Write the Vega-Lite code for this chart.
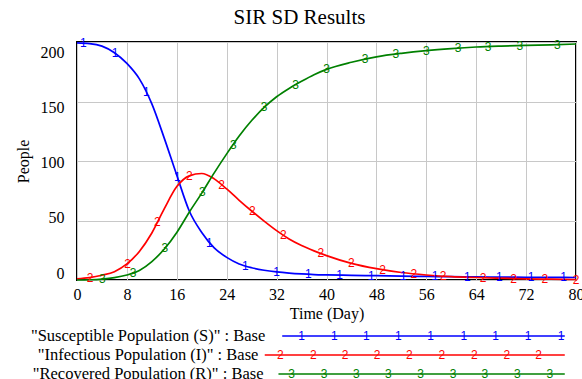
{
  "$schema": "https://vega.github.io/schema/vega-lite/v6.json",
  "background": "white",
  "padding": {"left": 14, "top": 7, "right": 0, "bottom": 0},
  "spacing": 5,
  "title": {"text": "SIR SD Results", "font": "Liberation Serif", "fontSize": 21, "fontWeight": "normal", "color": "black", "anchor": "middle", "offset": 8},
  "config": {"view": {"stroke": null}},
  "datasets": {
    "curves": [
      {"series": "S", "t": 0, "v": 199.3}, {"series": "S", "t": 2, "v": 198.7}, {"series": "S", "t": 4, "v": 196.5}, {"series": "S", "t": 6, "v": 191}, {"series": "S", "t": 8, "v": 182}, {"series": "S", "t": 10, "v": 169}, {"series": "S", "t": 12, "v": 148}, {"series": "S", "t": 14, "v": 119}, {"series": "S", "t": 16, "v": 88}, {"series": "S", "t": 18, "v": 58}, {"series": "S", "t": 20, "v": 40}, {"series": "S", "t": 22, "v": 27}, {"series": "S", "t": 24, "v": 19}, {"series": "S", "t": 26, "v": 13.5}, {"series": "S", "t": 28, "v": 10.3}, {"series": "S", "t": 30, "v": 8.2}, {"series": "S", "t": 32, "v": 6.8}, {"series": "S", "t": 34, "v": 5.8}, {"series": "S", "t": 36, "v": 5.1}, {"series": "S", "t": 38, "v": 4.6}, {"series": "S", "t": 40, "v": 4.3}, {"series": "S", "t": 44, "v": 3.9}, {"series": "S", "t": 48, "v": 3.6}, {"series": "S", "t": 52, "v": 3.3}, {"series": "S", "t": 56, "v": 3.0}, {"series": "S", "t": 60, "v": 2.8}, {"series": "S", "t": 64, "v": 2.6}, {"series": "S", "t": 68, "v": 2.4}, {"series": "S", "t": 72, "v": 2.3}, {"series": "S", "t": 76, "v": 2.2}, {"series": "S", "t": 80, "v": 2.1},
      {"series": "I", "t": 0, "v": 1}, {"series": "I", "t": 2, "v": 2}, {"series": "I", "t": 4, "v": 4}, {"series": "I", "t": 6, "v": 7}, {"series": "I", "t": 8, "v": 13.5}, {"series": "I", "t": 10, "v": 24}, {"series": "I", "t": 12, "v": 39.5}, {"series": "I", "t": 14, "v": 60}, {"series": "I", "t": 16, "v": 78.5}, {"series": "I", "t": 18, "v": 87.5}, {"series": "I", "t": 20, "v": 89.5}, {"series": "I", "t": 22, "v": 85}, {"series": "I", "t": 24, "v": 76.5}, {"series": "I", "t": 26, "v": 67}, {"series": "I", "t": 28, "v": 58}, {"series": "I", "t": 30, "v": 49.5}, {"series": "I", "t": 32, "v": 41.5}, {"series": "I", "t": 34, "v": 34.5}, {"series": "I", "t": 36, "v": 29}, {"series": "I", "t": 38, "v": 24.5}, {"series": "I", "t": 40, "v": 20.5}, {"series": "I", "t": 44, "v": 14}, {"series": "I", "t": 48, "v": 9.5}, {"series": "I", "t": 52, "v": 6.3}, {"series": "I", "t": 56, "v": 4.2}, {"series": "I", "t": 60, "v": 2.8}, {"series": "I", "t": 64, "v": 2.1}, {"series": "I", "t": 68, "v": 1.5}, {"series": "I", "t": 72, "v": 1.0}, {"series": "I", "t": 76, "v": 0.7}, {"series": "I", "t": 80, "v": 0.4},
      {"series": "R", "t": 0, "v": 0}, {"series": "R", "t": 2, "v": 0.2}, {"series": "R", "t": 4, "v": 0.8}, {"series": "R", "t": 6, "v": 2}, {"series": "R", "t": 8, "v": 4.2}, {"series": "R", "t": 10, "v": 8}, {"series": "R", "t": 12, "v": 15.5}, {"series": "R", "t": 14, "v": 26}, {"series": "R", "t": 16, "v": 40}, {"series": "R", "t": 18, "v": 57}, {"series": "R", "t": 20, "v": 73}, {"series": "R", "t": 22, "v": 90}, {"series": "R", "t": 24, "v": 106}, {"series": "R", "t": 26, "v": 121}, {"series": "R", "t": 28, "v": 134}, {"series": "R", "t": 30, "v": 145}, {"series": "R", "t": 32, "v": 154}, {"series": "R", "t": 34, "v": 161}, {"series": "R", "t": 36, "v": 167}, {"series": "R", "t": 38, "v": 172.5}, {"series": "R", "t": 40, "v": 177}, {"series": "R", "t": 44, "v": 183}, {"series": "R", "t": 48, "v": 187.5}, {"series": "R", "t": 52, "v": 190.5}, {"series": "R", "t": 56, "v": 192.8}, {"series": "R", "t": 60, "v": 194.5}, {"series": "R", "t": 64, "v": 195.8}, {"series": "R", "t": 68, "v": 196.6}, {"series": "R", "t": 72, "v": 197.2}, {"series": "R", "t": 76, "v": 197.6}, {"series": "R", "t": 80, "v": 198.3}
    ],
    "markers": [
      {"series": "S", "num": "1", "t": 1.0, "v": 199.1}, {"series": "S", "num": "1", "t": 6.1, "v": 190.8}, {"series": "S", "num": "1", "t": 11.1, "v": 158}, {"series": "S", "num": "1", "t": 16.1, "v": 86.5}, {"series": "S", "num": "1", "t": 21.2, "v": 31}, {"series": "S", "num": "1", "t": 27.0, "v": 11.8}, {"series": "S", "num": "1", "t": 32.0, "v": 6.8}, {"series": "S", "num": "1", "t": 37.1, "v": 4.8}, {"series": "S", "num": "1", "t": 42.1, "v": 4.1}, {"series": "S", "num": "1", "t": 47.2, "v": 3.7}, {"series": "S", "num": "1", "t": 52.3, "v": 3.3}, {"series": "S", "num": "1", "t": 57.4, "v": 2.95}, {"series": "S", "num": "1", "t": 62.6, "v": 2.7}, {"series": "S", "num": "1", "t": 67.7, "v": 2.4}, {"series": "S", "num": "1", "t": 72.8, "v": 2.3}, {"series": "S", "num": "1", "t": 78.0, "v": 2.15},
      {"series": "I", "num": "2", "t": 2.1, "v": 2.0}, {"series": "I", "num": "2", "t": 8.1, "v": 13.8}, {"series": "I", "num": "2", "t": 12.9, "v": 48.7}, {"series": "I", "num": "2", "t": 18.0, "v": 87.5}, {"series": "I", "num": "2", "t": 23.2, "v": 80}, {"series": "I", "num": "2", "t": 28.1, "v": 57.6}, {"series": "I", "num": "2", "t": 33.1, "v": 37.9}, {"series": "I", "num": "2", "t": 39.1, "v": 22.3}, {"series": "I", "num": "2", "t": 44.0, "v": 14}, {"series": "I", "num": "2", "t": 49.0, "v": 8.7}, {"series": "I", "num": "2", "t": 54.0, "v": 5.2}, {"series": "I", "num": "2", "t": 58.7, "v": 3.3}, {"series": "I", "num": "2", "t": 65.1, "v": 1.9}, {"series": "I", "num": "2", "t": 70.0, "v": 1.25}, {"series": "I", "num": "2", "t": 75.0, "v": 0.8}, {"series": "I", "num": "2", "t": 80.0, "v": 0.4},
      {"series": "R", "num": "3", "t": 4.05, "v": 0.8}, {"series": "R", "num": "3", "t": 9.0, "v": 5.9}, {"series": "R", "num": "3", "t": 14.1, "v": 26.7}, {"series": "R", "num": "3", "t": 20.1, "v": 73.8}, {"series": "R", "num": "3", "t": 25.05, "v": 113.8}, {"series": "R", "num": "3", "t": 30.0, "v": 145}, {"series": "R", "num": "3", "t": 35.05, "v": 164}, {"series": "R", "num": "3", "t": 40.0, "v": 177}, {"series": "R", "num": "3", "t": 46.2, "v": 185.5}, {"series": "R", "num": "3", "t": 51.1, "v": 189.8}, {"series": "R", "num": "3", "t": 56.0, "v": 192.8}, {"series": "R", "num": "3", "t": 61.1, "v": 194.8}, {"series": "R", "num": "3", "t": 65.9, "v": 196.2}, {"series": "R", "num": "3", "t": 71.0, "v": 197}, {"series": "R", "num": "3", "t": 77.0, "v": 197.7}
    ],
    "legendLines": [
      {"series": "S", "row": 1, "x1": 32.9, "x2": 78.2},
      {"series": "I", "row": 2, "x1": 30.1, "x2": 78.2},
      {"series": "R", "row": 3, "x1": 32.3, "x2": 78.2}
    ],
    "legendMarks": [
      {"series": "S", "num": "1", "row": 1, "x": 36.0}, {"series": "S", "num": "1", "row": 1, "x": 41.25}, {"series": "S", "num": "1", "row": 1, "x": 46.4}, {"series": "S", "num": "1", "row": 1, "x": 51.5}, {"series": "S", "num": "1", "row": 1, "x": 56.7}, {"series": "S", "num": "1", "row": 1, "x": 62.0}, {"series": "S", "num": "1", "row": 1, "x": 67.1}, {"series": "S", "num": "1", "row": 1, "x": 72.3}, {"series": "S", "num": "1", "row": 1, "x": 77.6},
      {"series": "I", "num": "2", "row": 2, "x": 32.6}, {"series": "I", "num": "2", "row": 2, "x": 37.9}, {"series": "I", "num": "2", "row": 2, "x": 43.0}, {"series": "I", "num": "2", "row": 2, "x": 48.1}, {"series": "I", "num": "2", "row": 2, "x": 53.3}, {"series": "I", "num": "2", "row": 2, "x": 58.5}, {"series": "I", "num": "2", "row": 2, "x": 63.7}, {"series": "I", "num": "2", "row": 2, "x": 68.9}, {"series": "I", "num": "2", "row": 2, "x": 74.0},
      {"series": "R", "num": "3", "row": 3, "x": 34.4}, {"series": "R", "num": "3", "row": 3, "x": 39.6}, {"series": "R", "num": "3", "row": 3, "x": 44.8}, {"series": "R", "num": "3", "row": 3, "x": 49.9}, {"series": "R", "num": "3", "row": 3, "x": 55.1}, {"series": "R", "num": "3", "row": 3, "x": 60.3}, {"series": "R", "num": "3", "row": 3, "x": 65.4}, {"series": "R", "num": "3", "row": 3, "x": 70.6}, {"series": "R", "num": "3", "row": 3, "x": 75.8}
    ],
    "legendText": [
      {"series": "S", "row": 1, "x": 11.4, "label": "\"Susceptible Population (S)\" : Base"},
      {"series": "I", "row": 2, "x": 11.4, "label": "\"Infectious Population (I)\" : Base"},
      {"series": "R", "row": 3, "x": 11.4, "label": "\"Recovered Population (R)\" : Base"}
    ]
  },
  "vconcat": [
    {
      "width": 499,
      "height": 238,
      "view": {"stroke": "black", "strokeWidth": 2},
      "layer": [
        {
          "data": {"name": "curves"},
          "mark": {"type": "line", "interpolate": "monotone", "strokeWidth": 1.7},
          "encoding": {
            "x": {
              "field": "t", "type": "quantitative",
              "scale": {"domain": [0, 80], "nice": false},
              "axis": {
                "values": [0, 4, 8, 12, 16, 20, 24, 28, 32, 36, 40, 44, 48, 52, 56, 60, 64, 68, 72, 76, 80],
                "labelExpr": "datum.value % 8 === 0 ? datum.label : ''",
                "grid": true, "gridColor": "#c8c8c8", "gridWidth": 1,
                "ticks": false, "domain": false,
                "labelFont": "Liberation Serif", "labelFontSize": 16, "labelColor": "black",
                "labelPadding": 6, "labelFlush": false, "labelOverlap": false,
                "title": "Time (Day)", "titleFont": "Liberation Serif", "titleFontSize": 16,
                "titleFontWeight": "normal", "titleColor": "black", "titlePadding": 3
              }
            },
            "y": {
              "field": "v", "type": "quantitative",
              "scale": {"domain": [0, 200], "nice": false},
              "axis": {
                "values": [0, 50, 100, 150, 200],
                "grid": true, "gridColor": "#c8c8c8", "gridWidth": 1,
                "ticks": false, "domain": false,
                "labelFont": "Liberation Serif", "labelFontSize": 16, "labelColor": "black",
                "labelPadding": 13,
                "labelOffset": {"expr": "datum.value * 0.0845 - 6.8"},
                "title": "People", "titleFont": "Liberation Serif", "titleFontSize": 16,
                "titleFontWeight": "normal", "titleColor": "black", "titlePadding": 9
              }
            },
            "color": {
              "field": "series", "type": "nominal",
              "scale": {"domain": ["S", "I", "R"], "range": ["#0000ff", "#ff0000", "#008000"]},
              "legend": null
            }
          }
        },
        {
          "data": {"name": "markers"},
          "mark": {"type": "text", "font": "Liberation Sans", "fontSize": 12, "align": "center", "baseline": "middle"},
          "encoding": {
            "x": {"field": "t", "type": "quantitative"},
            "y": {"field": "v", "type": "quantitative"},
            "text": {"field": "num"},
            "color": {"field": "series", "type": "nominal", "legend": null}
          }
        }
      ]
    },
    {
      "width": 499,
      "height": 52.75,
      "layer": [
        {
          "data": {"name": "legendLines"},
          "mark": {"type": "rule", "strokeWidth": 1.7},
          "encoding": {
            "x": {"field": "x1", "type": "quantitative", "scale": {"domain": [0, 80], "nice": false}, "axis": null},
            "x2": {"field": "x2"},
            "y": {"field": "row", "type": "quantitative", "scale": {"domain": [0.526, 3.302], "reverse": true, "nice": false, "zero": false}, "axis": null},
            "color": {"field": "series", "type": "nominal", "scale": {"domain": ["S", "I", "R"], "range": ["#0000ff", "#ff0000", "#008000"]}, "legend": null}
          }
        },
        {
          "data": {"name": "legendMarks"},
          "mark": {"type": "text", "font": "Liberation Sans", "fontSize": 12, "align": "center", "baseline": "middle"},
          "encoding": {
            "x": {"field": "x", "type": "quantitative"},
            "y": {"field": "row", "type": "quantitative"},
            "text": {"field": "num"},
            "color": {"field": "series", "type": "nominal", "legend": null}
          }
        },
        {
          "data": {"name": "legendText"},
          "mark": {"type": "text", "font": "Liberation Serif", "fontSize": 16.5, "align": "center", "baseline": "middle", "color": "black"},
          "encoding": {
            "x": {"field": "x", "type": "quantitative"},
            "y": {"field": "row", "type": "quantitative"},
            "text": {"field": "label"}
          }
        }
      ]
    }
  ]
}
